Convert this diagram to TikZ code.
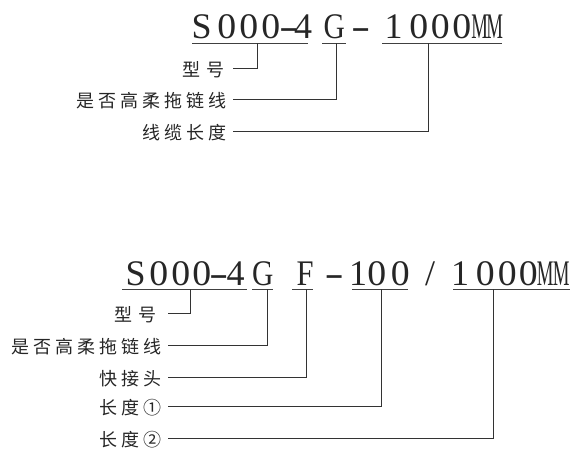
\documentclass[tikz,border=0pt]{standalone}
\usepackage{fontspec}
\usepackage{graphicx}
\setmainfont{Liberation Serif}
\newfontfamily\cjk{Noto Sans CJK SC}
% place one glyph centred at #2 pt from the start, optionally squeezed horizontally by #1
\newcommand\gl[3][1.05]{\makebox[0pt][l]{\hspace*{#2pt}\makebox[0pt]{\scalebox{#1}[1]{#3}}}}
\newcommand\lsp{\hspace{4pt}}
\begin{document}
\begin{tikzpicture}[x=1pt,y=-1pt,
  seg/.style={inner sep=0pt,anchor=base west,text=black!85,font=\fontsize{36}{36}\selectfont},
  lab/.style={inner sep=0pt,anchor=east,text=black!85,font=\cjk\fontsize{18}{18}\selectfont},
  uline/.style={line width=0.9pt,draw=black!75},
  conn/.style={line width=0.9pt,draw=black!80}]
\useasboundingbox (0,0) rectangle (572,449);

% ---------------- top code ----------------
\node[seg] (a1) at (192,39) {\makebox[116pt][l]{\gl[1.0]{9.5}{S}\gl{34.5}{0}\gl{56.5}{0}\gl{78.5}{0}\gl[1.6]{96.5}{-}\gl[1.0]{111}{4}}};
\node[seg] (a2) at (322,39) {\makebox[24pt][l]{\gl[0.82]{12}{G}}};
\node[seg] (ah) at (360,39) {\makebox[0pt]{\scalebox{1.6}[1]{-}}};
\node[seg] (a3) at (382,39) {\makebox[120pt][l]{\gl[1.0]{11.5}{1}\gl{36.5}{0}\gl{58}{0}\gl{79.5}{0}\gl[0.52]{97.5}{M}\gl[0.52]{112.5}{M}}};
\foreach \s in {a1,a2,a3}
  \draw[uline] ([yshift=-4pt]\s.base west) -- ([yshift=-4pt]\s.base east);

\coordinate (p1) at (257,43);
\coordinate (p2) at (336,43);
\coordinate (p3) at (428,43);

\node[lab] (l1) at (225,70) {型\hspace{6pt}号};
\node[lab] (l2) at (227,101) {是\lsp 否\lsp 高\lsp 柔\lsp 拖\lsp 链\lsp 线};
\node[lab] (l3) at (227,133) {线\lsp 缆\lsp 长\lsp 度};

\draw[conn] ([xshift=8pt,yshift=2pt]l1.east) -| (p1);
\draw[conn] ([xshift=6pt,yshift=2pt]l2.east) -| (p2);
\draw[conn] ([xshift=6pt,yshift=2pt]l3.east) -| (p3);

% ---------------- bottom code ----------------
\node[seg] (b1) at (122,285) {\makebox[125pt][l]{\gl[1.0]{13.5}{S}\gl{36.5}{0}\gl{58.5}{0}\gl{79.5}{0}\gl[1.6]{96.5}{-}\gl[1.0]{113.5}{4}}};
\node[seg] (b2) at (252,285) {\makebox[21pt][l]{\gl[0.82]{10.5}{G}}};
\node[seg] (b3) at (292,285) {\makebox[21pt][l]{\gl[0.85]{13}{F}}};
\node[seg] (bh) at (333.5,285) {\makebox[0pt]{\scalebox{1.6}[1]{-}}};
\node[seg] (b4) at (352,285) {\makebox[56pt][l]{\gl[1.0]{6}{1}\gl{24.5}{0}\gl{48}{0}}};
\node[seg] (bs) at (429.5,285) {\makebox[0pt]{/}};
\node[seg] (b5) at (453,285) {\makebox[117pt][l]{\gl[1.0]{7}{1}\gl{32}{0}\gl{54}{0}\gl{75}{0}\gl[0.52]{92}{M}\gl[0.52]{108}{M}}};
\foreach \s in {b1,b2,b3,b4,b5}
  \draw[uline] ([yshift=-4pt]\s.base west) -- ([yshift=-4pt]\s.base east);

\coordinate (q1) at (190,289);
\coordinate (q2) at (267,289);
\coordinate (q3) at (306,289);
\coordinate (q4) at (381,289);
\coordinate (q5) at (493,289);

\node[lab] (m1) at (157,315) {型\hspace{6pt}号};
\node[lab] (m2) at (162,347) {是\lsp 否\lsp 高\lsp 柔\lsp 拖\lsp 链\lsp 线};
\node[lab] (m3) at (162,379) {快\lsp 接\lsp 头};
\node[lab] (m4) at (162,408) {长\lsp 度\lsp ①};
\node[lab] (m5) at (162,440) {长\lsp 度\lsp ②};

\draw[conn] ([xshift=11pt,yshift=2pt]m1.east) -| (q1);
\draw[conn] ([xshift=6pt,yshift=2pt]m2.east) -| (q2);
\draw[conn] ([xshift=6pt,yshift=2pt]m3.east) -| (q3);
\draw[conn] ([xshift=6pt,yshift=2pt]m4.east) -| (q4);
\draw[conn] ([xshift=6pt,yshift=2pt]m5.east) -| (q5);
\end{tikzpicture}
\end{document}
